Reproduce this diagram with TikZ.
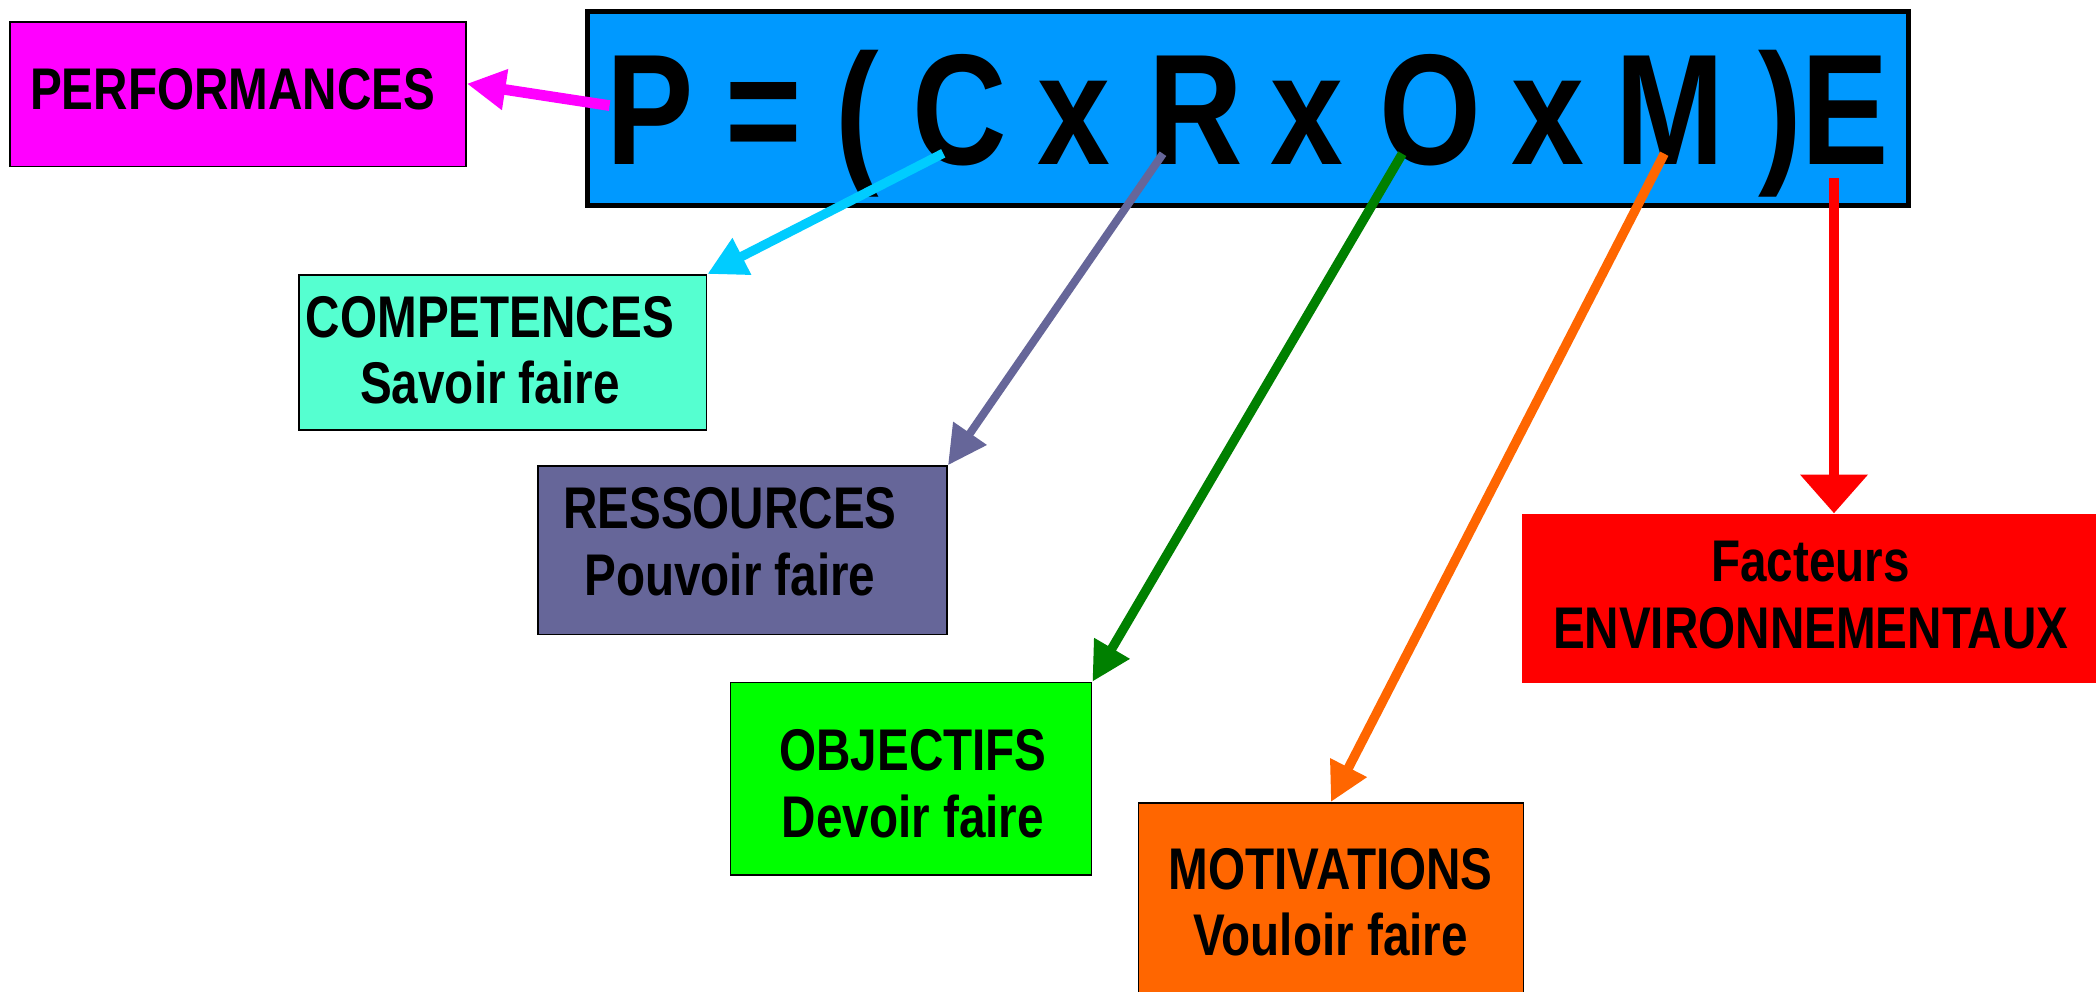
\documentclass[tikz,border=0pt]{standalone}
\usepackage{fontspec}
\setmainfont{Liberation Sans}[FakeStretch=0.83]
\newfontfamily\lblfont{Liberation Sans}[FakeStretch=0.81]
\usetikzlibrary{arrows.meta}
\definecolor{cblue}{HTML}{0099FF}
\definecolor{cmag}{HTML}{FF00FF}
\definecolor{caqua}{HTML}{55FFD0}
\definecolor{cslate}{HTML}{666699}
\definecolor{clime}{HTML}{00FF00}
\definecolor{corange}{HTML}{FF6600}
\definecolor{cred}{HTML}{FF0000}
\definecolor{ccyan}{HTML}{00CCFF}
\definecolor{cgreen}{HTML}{008000}
\begin{document}
\begin{tikzpicture}[x=1pt,y=-1pt,
  box/.style={draw=black, line width=1.2pt, inner sep=0pt, anchor=north west},
  lbl/.style={font=\lblfont\fontsize{44}{50}\selectfont\bfseries, align=center, inner sep=0pt},
  glyph/.style={font=\fontsize{118}{120}\selectfont\bfseries, inner sep=0pt, anchor=base},
  conn/.style={line width=7pt, -{Triangle[length=29pt,width=29pt]}},
]
\clip (0,0) rectangle (1568,742);
\fill[white] (0,0) rectangle (1568,742);

% boxes
\node[box, fill=cblue, line width=3.5pt, minimum width=988pt, minimum height=145pt] (formula) at (438,7) {};
\node[box, fill=cmag, minimum width=341pt, minimum height=108pt] (perf) at (7,16) {};
\node[box, fill=caqua, minimum width=305pt, minimum height=116pt] (comp) at (223,205) {};
\node[box, fill=cslate, minimum width=306pt, minimum height=126pt] (ress) at (402,348) {};
\node[box, fill=clime, minimum width=270pt, minimum height=144pt] (obj) at (546,510) {};
\node[box, fill=corange, minimum width=288pt, minimum height=152pt] (mot) at (851,600) {};
\node[box, draw=none, fill=cred, minimum width=433pt, minimum height=126pt] (env) at (1138,384) {};

% labels
\node[lbl] (perft) at (174,66.5) {PERFORMANCES};
\node[lbl] (compt) at (366.5,262) {COMPETENCES\\Savoir faire};
\node[lbl] (resst) at (546,405) {RESSOURCES\\Pouvoir faire};
\node[lbl] (objt) at (683,586) {OBJECTIFS\\Devoir faire};
\node[lbl] (mott) at (995.5,675) {MOTIVATIONS\\Vouloir faire};
\node[lbl] (envt) at (1354.5,445) {Facteurs\\ENVIRONNEMENTAUX};

% formula glyphs
\node[glyph] (P) at (486.7,123.4) {P};
\node[glyph] (eq) at (571.4,123.4) {=};
\node[glyph] (lp) at (641.7,123.4) {(};
\node[glyph] (C) at (717.8,123.4) {C};
\node[glyph] (x1) at (803,123.4) {x};
\node[glyph] (R) at (894.3,123.4) {R};
\node[glyph] (x2) at (978,123.4) {x};
\node[glyph] (O) at (1070,123.4) {O};
\node[glyph] (x3) at (1158.3,123.4) {x};
\node[glyph] (M) at (1249,123.4) {M};
\node[glyph] (rp) at (1332,123.4) {)};
\node[glyph] (E) at (1380,123.4) {E};

% connector start points
\coordinate (sP) at (456,79);
\coordinate (sC) at (705.6,114.7);
\coordinate (sR) at (870,115);
\coordinate (sO) at (1049,115);
\coordinate (sM) at (1245,115);
\coordinate (sE) at (1372,133);

% connectors
\draw[conn, cmag, line width=8pt] (sP) -- ([yshift=8pt]perf.east);
\draw[conn, ccyan] (sC) -- (comp.north east);
\draw[conn, cslate, line width=6pt] (sR) -- (ress.north east);
\draw[conn, cgreen] (sO) -- (obj.north east);
\draw[conn, corange] (sM) -- (mot.north);
\draw[cred, line width=8pt, -{Triangle[length=29pt,width=49pt]}] (sE) -- (sE |- env.north);
\end{tikzpicture}
\end{document}
